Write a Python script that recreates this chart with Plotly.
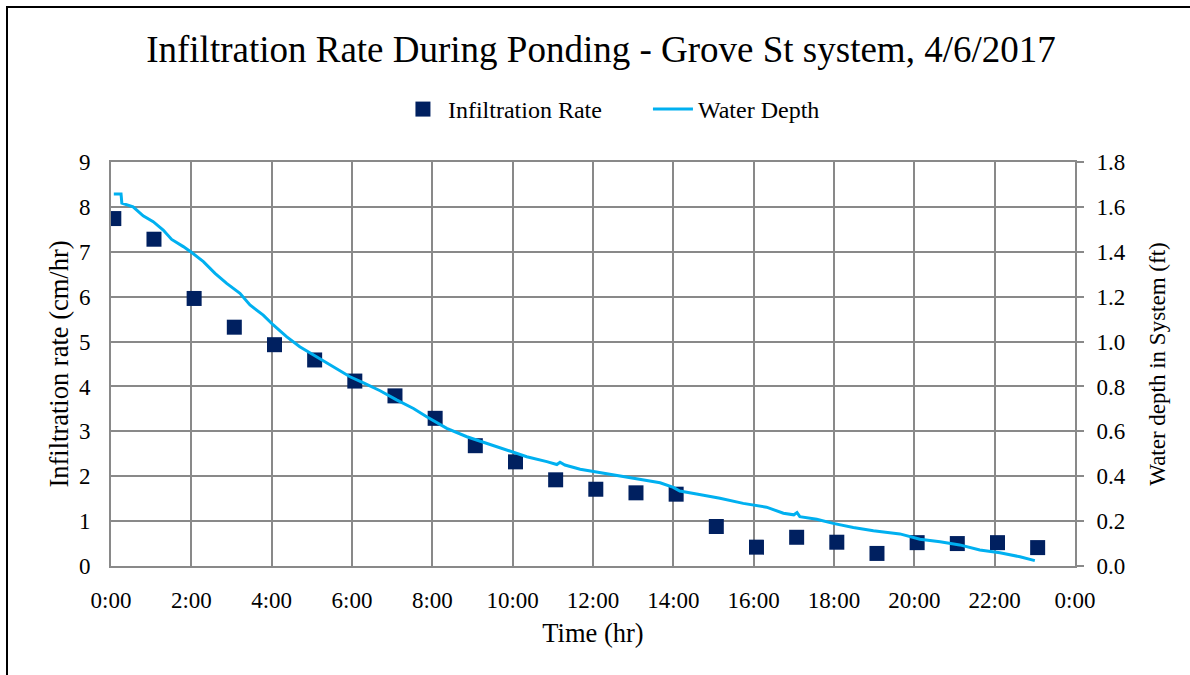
import plotly.graph_objects as go

# Hourly infiltration rate readings (time in hours since 0:00, rate in cm/hr)
rate_hours = [0.07, 1.07, 2.07, 3.07, 4.07, 5.07, 6.07, 7.07, 8.07, 9.07, 10.07, 11.07,
              12.07, 13.07, 14.07, 15.07, 16.07, 17.07, 18.07, 19.07, 20.07, 21.07, 22.07, 23.07]
rate_values = [7.74, 7.28, 5.96, 5.32, 4.93, 4.59, 4.12, 3.79, 3.29, 2.68, 2.32, 1.92,
               1.71, 1.63, 1.60, 0.88, 0.42, 0.64, 0.53, 0.28, 0.52, 0.50, 0.52, 0.41]

# Logged water depth in the system (time in hours, depth in ft)
depth_hours = [0.07, 0.25, 0.27, 0.55, 0.80, 1.05, 1.30, 1.51, 1.80, 2.00, 2.30, 2.59,
               2.88, 3.21, 3.46, 3.79, 4.04, 4.37, 4.70, 5.12, 5.53, 5.95, 6.30, 6.70,
               7.11, 7.53, 7.86, 8.36, 8.86, 9.35, 9.85, 10.35, 10.85, 11.10, 11.18, 11.30,
               11.68, 12.17, 12.67, 13.17, 13.67, 14.00, 14.16, 14.58, 15.16, 15.74, 16.32,
               16.74, 17.00, 17.08, 17.15, 17.57, 17.98, 18.48, 18.98, 19.64, 20.14, 20.64,
               21.13, 21.63, 22.13, 22.63, 23.00]
depth_values = [1.657, 1.657, 1.617, 1.600, 1.560, 1.534, 1.497, 1.455, 1.423, 1.398, 1.356, 1.304,
                1.259, 1.215, 1.163, 1.118, 1.074, 1.022, 0.977, 0.932, 0.888, 0.843, 0.815, 0.781,
                0.740, 0.702, 0.665, 0.613, 0.576, 0.547, 0.517, 0.487, 0.465, 0.452, 0.462, 0.450,
                0.431, 0.416, 0.401, 0.388, 0.371, 0.350, 0.334, 0.321, 0.302, 0.279, 0.262,
                0.235, 0.228, 0.238, 0.220, 0.208, 0.190, 0.172, 0.157, 0.143, 0.119, 0.108,
                0.094, 0.071, 0.059, 0.041, 0.024]

x_tick_vals = [0, 2, 4, 6, 8, 10, 12, 14, 16, 18, 20, 22, 24]
x_tick_text = ["0:00", "2:00", "4:00", "6:00", "8:00", "10:00", "12:00", "14:00",
               "16:00", "18:00", "20:00", "22:00", "0:00"]

FONT = "Liberation Serif"
GRID = "#898989"

fig = go.Figure()

fig.add_trace(go.Scatter(
    x=rate_hours, y=rate_values, mode="markers", name="Infiltration Rate",
    marker=dict(symbol="square", size=15, color="#002060"),
    yaxis="y",
))

fig.add_trace(go.Scatter(
    x=depth_hours, y=depth_values, mode="lines", name="Water Depth",
    line=dict(color="#00B0F0", width=3),
    yaxis="y2",
))

fig.update_layout(
    width=1190, height=675,
    margin=dict(l=111, r=115, t=162, b=109),
    paper_bgcolor="white", plot_bgcolor="white",
    font=dict(family=FONT, size=23, color="black"),
    title=dict(
        text="Infiltration Rate During Ponding - Grove St system, 4/6/2017",
        font=dict(family=FONT, size=37, color="black"),
        x=0.505, xanchor="center", y=0.928, yanchor="middle",
    ),
    legend=dict(
        orientation="h", x=0.557, xanchor="center", y=1.13, yanchor="middle",
        font=dict(family=FONT, size=24, color="black"),
        entrywidth=195, entrywidthmode="pixels",
        itemwidth=40, bgcolor="rgba(0,0,0,0)",
    ),
    showlegend=True,
    xaxis=dict(
        range=[0, 24], tickvals=x_tick_vals, ticktext=x_tick_text,
        showgrid=True, gridcolor=GRID, gridwidth=2,
        showline=True, linecolor=GRID, linewidth=2, mirror=True,
        ticks="", ticklabelstandoff=12, zeroline=False,
        title=dict(text="Time (hr)", standoff=12,
                   font=dict(family=FONT, size=26.5, color="black")),
    ),
    yaxis=dict(
        range=[0, 9], dtick=1, tick0=0,
        showgrid=True, gridcolor=GRID, gridwidth=2,
        showline=True, linecolor=GRID, linewidth=2,
        ticks="", ticklabelstandoff=14, zeroline=False,
        title=dict(text="Infiltration rate (cm/hr)", standoff=3,
                   font=dict(family=FONT, size=26.5, color="black")),
    ),
    yaxis2=dict(
        range=[0, 1.8], dtick=0.2, tick0=0, tickformat=".1f",
        overlaying="y", side="right", showgrid=False,
        showline=True, linecolor=GRID, linewidth=2,
        ticks="outside", ticklen=7, tickcolor=GRID, tickwidth=2,
        ticklabelstandoff=8, zeroline=False,
        title=dict(text="Water depth in System (ft)", standoff=24,
                   font=dict(family=FONT, size=23, color="black")),
    ),
    shapes=[dict(
        type="rect", xref="paper", yref="paper",
        x0=(7 - 111) / 964, x1=1.5, y0=-1.0, y1=(566 - 7) / 404,
        line=dict(color="black", width=2), fillcolor="rgba(0,0,0,0)", layer="below",
    )],
)

fig.write_html("out.html")
